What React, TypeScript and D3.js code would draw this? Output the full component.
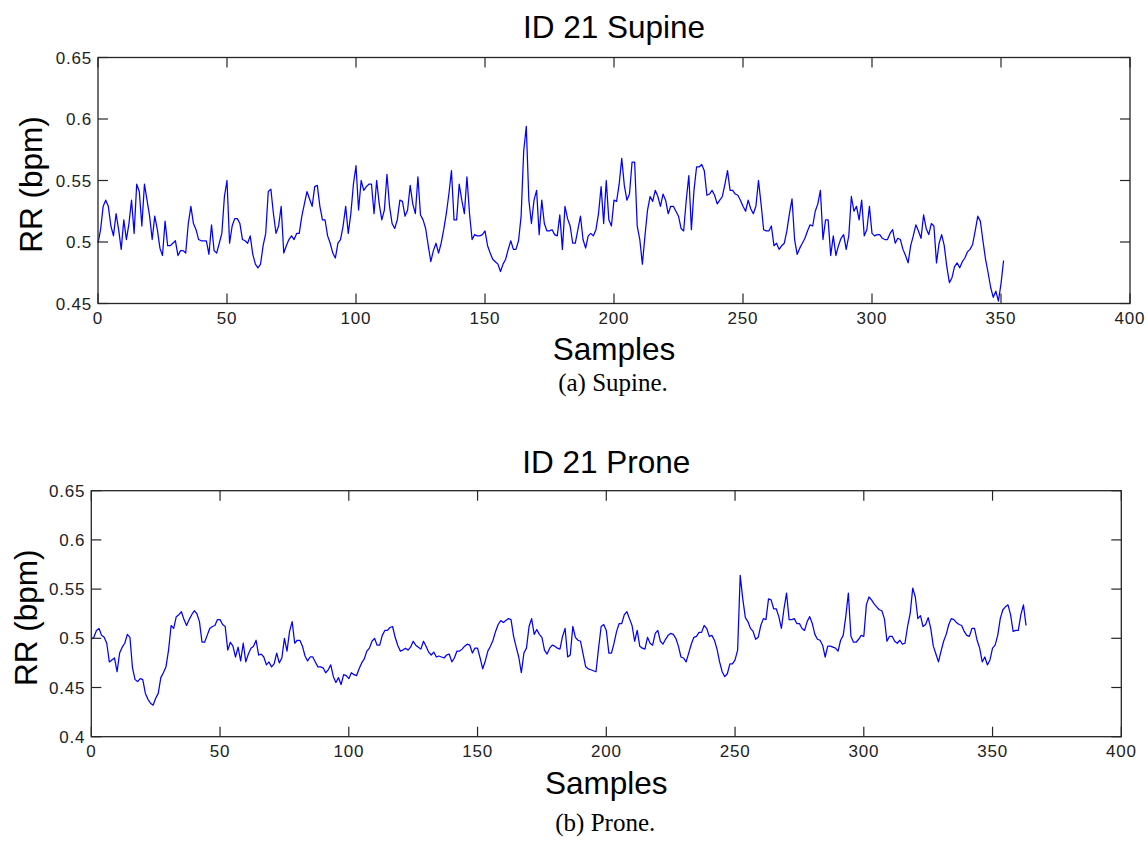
import React from "react";
import * as d3 from "d3";

// Respiratory-rate series, one value per sample
const supineRR: number[] = [
  0.499,0.510,0.529,0.534,0.529,0.513,0.505,0.523,0.510,0.494,
  0.518,0.502,0.515,0.534,0.507,0.547,0.541,0.513,0.547,0.534,
  0.521,0.502,0.521,0.510,0.495,0.489,0.517,0.497,0.497,0.499,
  0.501,0.489,0.493,0.493,0.491,0.515,0.529,0.515,0.510,0.502,
  0.501,0.501,0.501,0.490,0.514,0.493,0.491,0.499,0.507,0.537,
  0.550,0.499,0.513,0.519,0.519,0.515,0.502,0.501,0.499,0.505,
  0.490,0.482,0.479,0.482,0.497,0.507,0.541,0.543,0.523,0.507,
  0.513,0.529,0.491,0.497,0.502,0.505,0.502,0.507,0.507,0.521,
  0.531,0.541,0.535,0.529,0.545,0.546,0.529,0.518,0.518,0.505,
  0.499,0.491,0.487,0.499,0.502,0.513,0.529,0.507,0.523,0.547,
  0.562,
  0.526,0.550,0.542,0.545,0.547,0.547,0.523,0.550,0.531,0.518,
  0.526,0.555,0.529,0.515,0.511,0.518,0.534,0.533,0.521,0.526,
  0.546,0.531,0.523,0.553,0.522,0.518,0.511,0.497,0.484,0.493,
  0.499,0.491,0.499,0.510,0.523,0.539,0.558,0.518,0.518,0.547,
  0.534,0.523,0.553,0.523,0.502,0.506,0.505,0.505,0.506,0.509,
  0.497,0.491,0.486,0.484,0.482,0.476,0.482,0.486,0.494,0.501,
  0.494,0.494,0.501,0.521,0.574,0.594,0.534,0.515,0.534,0.542,
  0.506,0.534,0.515,0.509,0.509,0.510,0.506,0.505,0.522,0.494,
  0.529,0.519,0.513,0.499,0.499,0.510,0.521,0.502,0.495,0.505,
  0.507,0.505,0.510,0.523,0.545,0.515,0.550,0.518,0.513,0.534,
  0.533,0.547,0.568,0.546,0.534,0.539,0.565,0.565,0.513,0.502,
  0.482,0.505,0.526,0.537,0.533,0.542,0.537,0.529,0.539,0.534,
  0.523,0.529,0.529,0.525,0.521,0.511,0.509,0.534,0.554,0.510,
  0.542,0.561,0.561,0.563,0.558,0.538,0.539,0.542,0.538,0.531,
  0.534,0.537,0.547,0.558,0.542,0.542,0.539,0.538,0.534,0.529,
  0.525,0.534,0.527,0.523,0.529,0.550,0.531,0.510,0.509,0.509,
  0.513,0.497,0.499,0.494,0.497,0.499,0.509,0.523,0.535,0.502,
  0.490,0.495,0.499,0.503,0.509,0.514,0.513,0.525,0.531,0.542,
  0.502,0.518,0.518,0.489,0.505,0.489,0.497,0.503,0.506,0.494,
  0.505,0.537,0.525,0.529,0.518,0.534,0.505,0.510,0.529,0.507,
  0.505,0.506,0.506,0.503,0.502,0.502,0.507,0.510,0.499,0.503,
  0.502,0.494,0.489,0.483,0.497,0.505,0.514,0.509,0.503,0.522,
  0.511,0.506,0.515,0.513,0.483,0.499,0.506,0.497,0.480,0.467,
  0.471,0.480,0.483,0.479,0.484,0.487,0.492,0.494,0.498,0.509,
  0.521,0.517,0.501,0.486,0.475,0.463,0.455,0.460,0.452,0.466,
  0.485,
];

const proneRR: number[] = [
  0.499,0.501,0.508,0.510,0.503,0.501,0.495,0.476,0.478,0.480,
  0.466,0.485,0.491,0.495,0.504,0.501,0.470,0.458,0.456,0.459,
  0.458,0.444,0.438,0.434,0.432,0.439,0.444,0.460,0.465,0.471,
  0.488,0.513,0.510,0.522,0.524,0.527,0.519,0.513,0.519,0.524,
  0.528,0.525,0.517,0.496,0.496,0.503,0.510,0.512,0.513,0.519,
  0.519,0.514,0.512,0.488,0.496,0.492,0.481,0.491,0.477,0.495,
  0.476,0.484,0.490,0.492,0.498,0.483,0.484,0.481,0.473,0.476,
  0.471,0.474,0.485,0.475,0.480,0.500,0.487,0.507,0.517,0.495,
  0.498,0.498,0.492,0.482,0.477,0.481,0.481,0.476,0.471,0.471,
  0.470,0.465,0.468,0.473,0.461,0.455,0.460,0.453,0.463,0.462,
  0.459,
  0.465,0.463,0.462,0.469,0.475,0.479,0.487,0.490,0.497,0.500,
  0.493,0.493,0.503,0.508,0.508,0.511,0.512,0.501,0.493,0.487,
  0.488,0.490,0.488,0.491,0.497,0.493,0.491,0.489,0.497,0.492,
  0.486,0.483,0.486,0.481,0.482,0.481,0.480,0.483,0.484,0.476,
  0.480,0.487,0.487,0.489,0.492,0.494,0.493,0.485,0.490,0.490,
  0.480,0.469,0.477,0.487,0.492,0.498,0.507,0.514,0.518,0.516,
  0.518,0.520,0.519,0.502,0.491,0.481,0.465,0.485,0.490,0.512,
  0.520,0.504,0.509,0.504,0.501,0.488,0.484,0.490,0.493,0.492,
  0.490,0.489,0.502,0.510,0.481,0.483,0.512,0.501,0.498,0.497,
  0.484,0.471,0.469,0.468,0.467,0.466,0.490,0.512,0.514,0.508,
  0.485,0.485,0.495,0.507,0.515,0.515,0.524,0.527,0.520,0.513,
  0.497,0.508,0.492,0.490,0.489,0.501,0.495,0.493,0.505,0.508,
  0.497,0.494,0.499,0.503,0.505,0.504,0.500,0.492,0.481,0.480,
  0.476,0.485,0.494,0.501,0.502,0.506,0.506,0.513,0.510,0.502,
  0.503,0.498,0.489,0.476,0.466,0.461,0.464,0.474,0.474,0.478,
  0.488,0.564,0.540,0.521,0.517,0.510,0.507,0.499,0.501,0.513,
  0.520,0.519,0.540,0.539,0.530,0.530,0.522,0.510,0.530,0.546,
  0.519,0.519,0.520,0.515,0.515,0.510,0.508,0.517,0.522,0.515,
  0.504,0.499,0.498,0.493,0.481,0.492,0.492,0.491,0.490,0.487,
  0.498,0.503,0.522,0.546,0.502,0.496,0.496,0.499,0.503,0.502,
  0.534,0.542,0.539,0.535,0.532,0.529,0.528,0.520,0.497,0.502,
  0.502,0.497,0.495,0.498,0.494,0.495,0.512,0.525,0.551,0.542,
  0.520,0.523,0.512,0.514,0.521,0.510,0.492,0.484,0.476,0.487,
  0.497,0.504,0.514,0.520,0.519,0.516,0.514,0.513,0.507,0.503,
  0.502,0.510,0.510,0.498,0.490,0.476,0.481,0.473,0.478,0.490,
  0.493,0.503,0.520,0.529,0.532,0.534,0.524,0.507,0.508,0.508,
  0.524,0.534,0.513,
];

const xTicks: number[] = [0, 50, 100, 150, 200, 250, 300, 350, 400];
const supineYTicks: number[] = [0.45, 0.5, 0.55, 0.6, 0.65];
const proneYTicks: number[] = [0.4, 0.45, 0.5, 0.55, 0.6, 0.65];

const titles: string[] = ["ID 21 Supine", "ID 21 Prone"];
const captions: string[] = ["(a) Supine.", "(b) Prone."];
const xLabel = "Samples";
const yLabel = "RR (bpm)";

const SANS = "'Liberation Sans', Arial, Helvetica, sans-serif";
const SERIF = "'Liberation Serif', 'Times New Roman', serif";
const AXIS = "#262626";

type PanelProps = {
  data: number[];
  yTicks: number[];
  title: string;
  caption: string;
  box: { left: number; right: number; top: number; bottom: number };
  titleY: number;
  xLabelY: number;
  captionY: number;
  yLabelX: number;
};

const fmt = (v: number) => String(+v.toFixed(2));

function Panel({ data, yTicks, title, caption, box, titleY, xLabelY, captionY, yLabelX }: PanelProps) {
  const x = d3.scaleLinear().domain([0, 400]).range([box.left, box.right]);
  const y = d3
    .scaleLinear()
    .domain([yTicks[0], yTicks[yTicks.length - 1]])
    .range([box.bottom, box.top]);
  const line = d3
    .line<number>()
    .x((_, i) => x(i))
    .y((d) => y(d));
  const tickLen = 10;
  const cx = (box.left + box.right) / 2;
  const cy = (box.top + box.bottom) / 2;

  return (
    <g>
      <text x={cx} y={titleY} textAnchor="middle" fontFamily={SANS} fontSize={31.5} fill="#000">
        {title}
      </text>
      <rect x={box.left} y={box.top} width={box.right - box.left} height={box.bottom - box.top} fill="#fff" />
      <path d={line(data) ?? ""} fill="none" stroke="#0000ff" strokeWidth={1.25} strokeLinejoin="round" />
      <rect
        x={box.left}
        y={box.top}
        width={box.right - box.left}
        height={box.bottom - box.top}
        fill="none"
        stroke={AXIS}
        strokeWidth={1.3}
      />
      {xTicks.map((t) => (
        <g key={"x" + t}>
          <line x1={x(t)} x2={x(t)} y1={box.bottom} y2={box.bottom - tickLen} stroke={AXIS} strokeWidth={1.2} />
          <line x1={x(t)} x2={x(t)} y1={box.top} y2={box.top + tickLen} stroke={AXIS} strokeWidth={1.2} />
          <text
            x={x(t)}
            y={box.bottom + 20.5}
            textAnchor="middle"
            fontFamily={SANS}
            fontSize={17}
            letterSpacing={0.8}
            fill="#222"
          >
            {fmt(t)}
          </text>
        </g>
      ))}
      {yTicks.map((t) => (
        <g key={"y" + t}>
          <line x1={box.left} x2={box.left + tickLen} y1={y(t)} y2={y(t)} stroke={AXIS} strokeWidth={1.2} />
          <line x1={box.right} x2={box.right - tickLen} y1={y(t)} y2={y(t)} stroke={AXIS} strokeWidth={1.2} />
          <text
            x={box.left - 6}
            y={y(t)}
            dy="0.36em"
            textAnchor="end"
            fontFamily={SANS}
            fontSize={17}
            letterSpacing={0.8}
            fill="#222"
          >
            {fmt(t)}
          </text>
        </g>
      ))}
      <text x={cx} y={xLabelY} textAnchor="middle" fontFamily={SANS} fontSize={31.5} fill="#000">
        {xLabel}
      </text>
      <text
        transform={`translate(${yLabelX},${cy + 4}) rotate(-90)`}
        textAnchor="middle"
        fontFamily={SANS}
        fontSize={31.5}
        fill="#000"
      >
        {yLabel}
      </text>
      <text x={cx - 1} y={captionY} textAnchor="middle" fontFamily={SERIF} fontSize={25} fill="#000">
        {caption}
      </text>
    </g>
  );
}

export default function App() {
  return (
    <div style={{ position: "absolute", left: 0, top: 0, width: 1148, height: 843, background: "#fff" }}>
      <svg width={1148} height={843} viewBox="0 0 1148 843" style={{ display: "block" }}>
        <rect width={1148} height={843} fill="#fff" />
        <Panel
          data={supineRR}
          yTicks={supineYTicks}
          title={titles[0]}
          caption={captions[0]}
          box={{ left: 98, right: 1130, top: 57.5, bottom: 303.5 }}
          titleY={38}
          xLabelY={360}
          captionY={391}
          yLabelX={42}
        />
        <Panel
          data={proneRR}
          yTicks={proneYTicks}
          title={titles[1]}
          caption={captions[1]}
          box={{ left: 91.3, right: 1121.3, top: 490.7, bottom: 736.7 }}
          titleY={473}
          xLabelY={794}
          captionY={831}
          yLabelX={37}
        />
      </svg>
    </div>
  );
}
